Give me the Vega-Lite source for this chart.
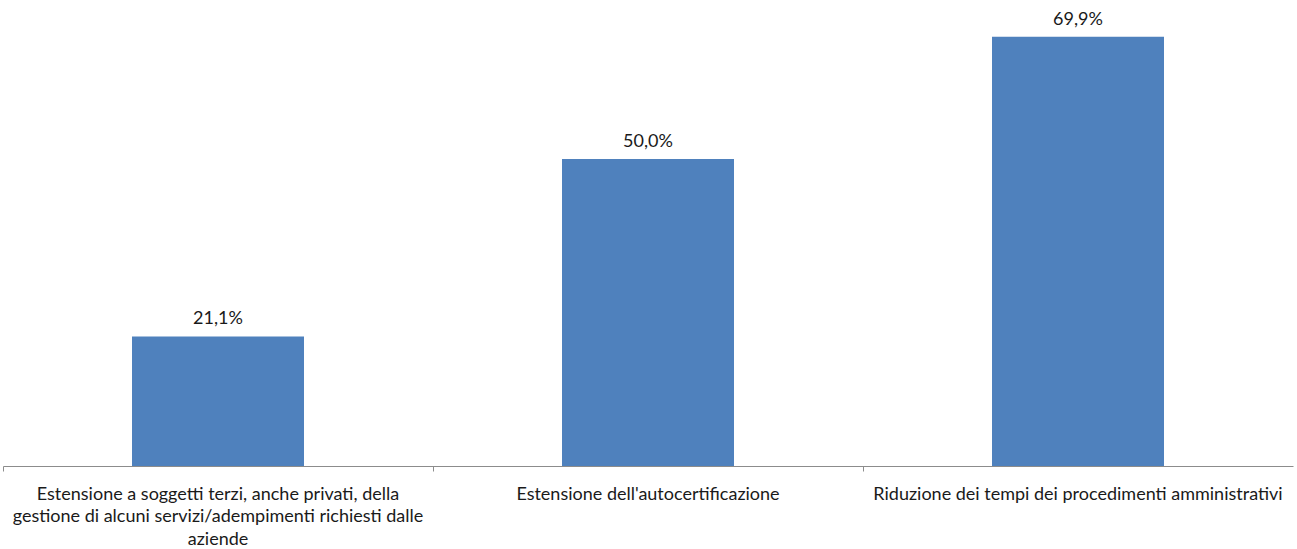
{
  "$schema": "https://vega.github.io/schema/vega-lite/v6.json",
  "width": 1290,
  "height": 466,
  "padding": {"left": 3, "top": 0, "right": 4, "bottom": 83},
  "autosize": {"type": "none"},
  "background": "white",
  "config": {
    "view": {"stroke": null},
    "locale": {"number": {"decimal": ",", "thousands": ".", "grouping": [3], "currency": ["", " €"]}},
    "font": "Lato"
  },
  "data": {
    "values": [
      {"misura": "Estensione a soggetti terzi, anche privati, della gestione di alcuni servizi/adempimenti richiesti dalle aziende", "quota": 0.211},
      {"misura": "Estensione dell'autocertificazione", "quota": 0.5},
      {"misura": "Riduzione dei tempi dei procedimenti amministrativi", "quota": 0.699}
    ]
  },
  "encoding": {
    "x": {
      "field": "misura",
      "type": "nominal",
      "sort": null,
      "scale": {"paddingInner": 0.6, "paddingOuter": 0.3},
      "axis": {
        "title": null,
        "labelAngle": 0,
        "labelFont": "Lato",
        "labelFontSize": 18,
        "labelColor": "#1a1a1a",
        "labelPadding": 28,
        "labelLineHeight": 22.5,
        "labelLimit": 0,
        "labelBaseline": "alphabetic",
        "bandPosition": -0.75,
        "tickColor": "#8c8c8c",
        "tickSize": 5,
        "domainColor": "#8c8c8c",
        "domainWidth": 1,
        "labelExpr": "indexof(datum.label, 'aziende') >= 0 ? ['Estensione a soggetti terzi, anche privati, della', 'gestione di alcuni servizi/adempimenti richiesti dalle', 'aziende'] : datum.label"
      }
    },
    "y": {
      "field": "quota",
      "type": "quantitative",
      "scale": {"domain": [0, 0.759], "nice": false, "zero": true},
      "axis": null
    }
  },
  "layer": [
    {"mark": {"type": "bar", "color": "#4f81bd"}},
    {
      "mark": {"type": "text", "baseline": "alphabetic", "dy": -12, "font": "Lato", "fontSize": 18, "color": "#1a1a1a"},
      "encoding": {"text": {"field": "quota", "type": "quantitative", "format": ".1%"}}
    }
  ]
}
